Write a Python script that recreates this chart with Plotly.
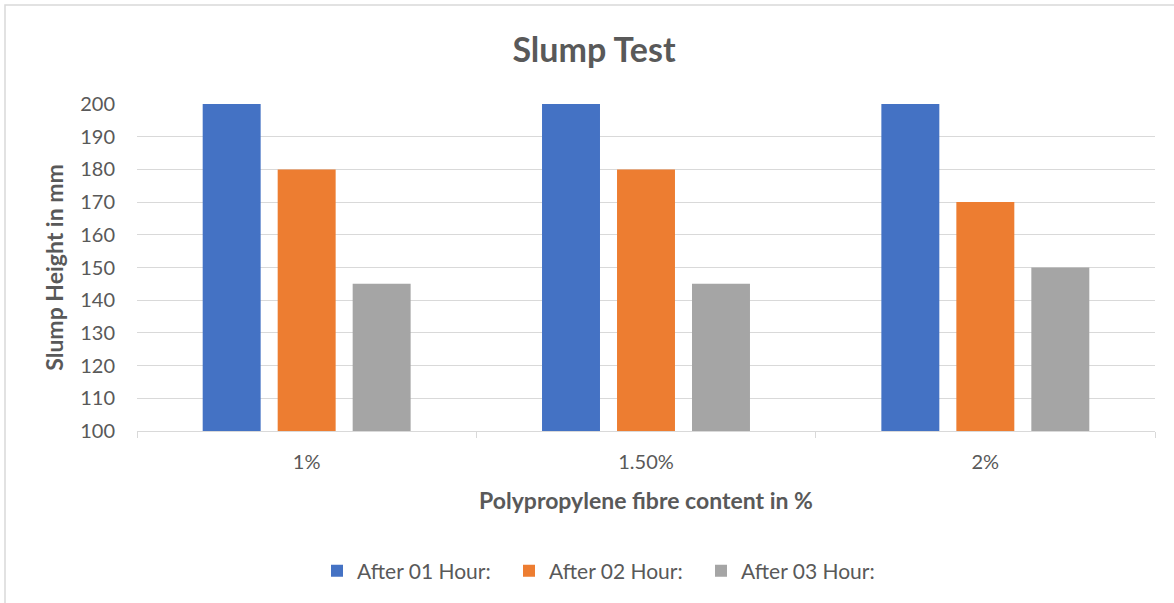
import plotly.graph_objects as go

categories = ["1%", "1.50%", "2%"]
after_01 = [200, 200, 200]
after_02 = [180, 180, 170]
after_03 = [145, 145, 150]
series_names = ["After 01 Hour:", "After 02 Hour:", "After 03 Hour:"]
colors = ["#4472C4", "#ED7D31", "#A5A5A5"]
y_ticks = list(range(100, 201, 10))

FONT = "Lato, 'Open Sans', sans-serif"
TXT = "#595959"

W, H = 1174, 603
L, R, T, B = 137, 19, 104, 172
PW, PH = W - L - R, H - T - B

fig = go.Figure()
for name, vals, c in zip(series_names, [after_01, after_02, after_03], colors):
    fig.add_trace(go.Bar(x=categories, y=vals, name=name, marker=dict(color=c, line=dict(width=0))))

fig.update_layout(
    width=W, height=H,
    paper_bgcolor="white", plot_bgcolor="white",
    margin=dict(l=L, r=R, t=T, b=B),
    barmode="group", bargap=0.337, bargroupgap=0.227,
    font=dict(family=FONT, color=TXT, size=20),
    title=dict(text="<b>Slump Test</b>", x=594 / W, xanchor="center", y=1 - 50 / H, yanchor="middle",
               font=dict(size=34, color=TXT, family=FONT)),
    showlegend=True,
    legend=dict(orientation="h", x=(605 - L) / PW, xanchor="center", y=(H - B - 571) / PH, yanchor="middle",
                font=dict(size=21, color=TXT, family=FONT), itemwidth=30, traceorder="normal",
                entrywidth=147, entrywidthmode="pixels"),
    xaxis=dict(
        type="category", showgrid=False, showline=True, linecolor="#D9D9D9", linewidth=1,
        ticks="outside", tickson="boundaries", ticklen=6, tickcolor="#D9D9D9",
        tickfont=dict(size=20, color=TXT), ticklabelstandoff=13,
        title=dict(text="<b>Polypropylene fibre content in %</b>", font=dict(size=23, color=TXT), standoff=20),
    ),
    yaxis=dict(
        range=[100, 200], tickvals=y_ticks, showgrid=True, gridcolor="#D9D9D9", gridwidth=1,
        showline=False, zeroline=False, ticks="", ticklabelstandoff=21,
        tickfont=dict(size=20, color=TXT),
        title=dict(text="<b>Slump Height in mm</b>", font=dict(size=23, color=TXT), standoff=10),
    ),
    shapes=[dict(type="rect", xref="paper", yref="paper",
                 x0=(5 - L) / PW, x1=(W + 10 - L) / PW,
                 y0=(H - B - (H + 10)) / PH, y1=(H - B - 5) / PH,
                 line=dict(color="#D9D9D9", width=1.5), layer="below")],
)
fig.write_html("out.html", config={"displayModeBar": False},
               post_script="document.body.style.margin='0';document.body.style.overflow='hidden';")
